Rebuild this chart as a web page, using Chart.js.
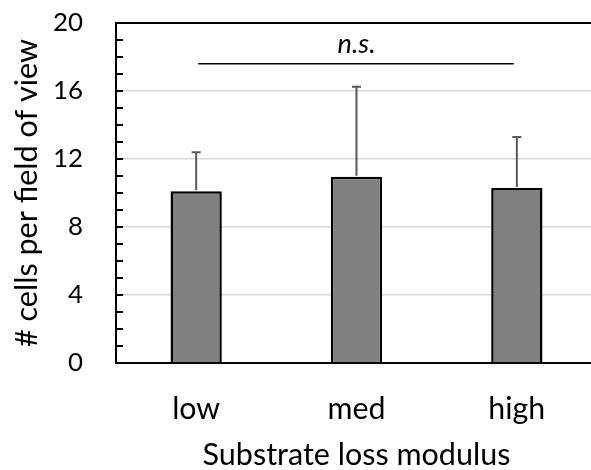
<!DOCTYPE html>
<html>
<head>
<meta charset="utf-8">
<script src="https://cdn.jsdelivr.net/npm/chart.js@4"></script>
<style>
  html, body { margin: 0; padding: 0; background: #fff; overflow: hidden; }
  #wrap { width: 600px; height: 470px; }
</style>
</head>
<body>
<div id="wrap"><canvas id="c" width="600" height="470"></canvas></div>
<script>
// ---- data ----
const categories = ['low', 'med', 'high'];
const meanCells = [10.1, 10.95, 10.3];
const sdCells = [2.3, 5.3, 3.0];
const yTicks = [0, 4, 8, 12, 16, 20];
const sigLabel = 'n.s.';
const sigLevel = 17.6;
const sigTextLevel = 18.75;
const yTitle = '# cells per field of view';
const xTitle = 'Substrate loss modulus';

// ---- font fitting to match reference text widths ----
const FAMILY = 'Lato';
const mctx = document.createElement('canvas').getContext('2d');
function fit(text, width, style) {
  mctx.font = (style || '') + ' 100px ' + FAMILY;
  return 100 * width / mctx.measureText(text).width;
}
const yTickSize = fit('20', 30);
const xTickSize = fit('med', 58);
const xTitleSize = fit(xTitle, 308);
const yTitleSize = fit(yTitle, 308);
const nsSize = fit(sigLabel, 38, 'italic');

const overlay = {
  id: 'overlay',
  afterDatasetsDraw(chart) {
    const ctx = chart.ctx;
    const x = chart.scales.x, y = chart.scales.y;
    const area = chart.chartArea;
    ctx.save();
    // inward minor/major tick marks on y axis
    ctx.strokeStyle = '#000';
    ctx.lineWidth = 2;
    for (let v = 1; v < 20; v++) {
      const py = Math.round(y.getPixelForValue(v)) ;
      ctx.beginPath();
      ctx.moveTo(area.left, py);
      ctx.lineTo(area.left + 7, py);
      ctx.stroke();
    }
    // error bars
    ctx.strokeStyle = '#595959';
    ctx.lineWidth = 2;
    meanCells.forEach((m, i) => {
      const px = x.getPixelForValue(i);
      const y0 = y.getPixelForValue(m) - 1;
      const y1 = y.getPixelForValue(m + sdCells[i]);
      ctx.beginPath();
      ctx.moveTo(px, y0);
      ctx.lineTo(px, y1);
      ctx.moveTo(px - 4.5, y1);
      ctx.lineTo(px + 4.5, y1);
      ctx.stroke();
    });
    // significance line
    ctx.strokeStyle = '#000';
    ctx.lineWidth = 1.5;
    const sy = y.getPixelForValue(sigLevel);
    ctx.beginPath();
    ctx.moveTo(x.getPixelForValue(0) + 2, sy);
    ctx.lineTo(x.getPixelForValue(2) - 3, sy);
    ctx.stroke();
    ctx.fillStyle = '#000';
    ctx.font = 'italic ' + nsSize + 'px ' + FAMILY;
    ctx.textAlign = 'center';
    ctx.textBaseline = 'middle';
    ctx.fillText(sigLabel, x.getPixelForValue(1), y.getPixelForValue(sigTextLevel));
    ctx.restore();
  }
};

new Chart(document.getElementById('c'), {
  type: 'bar',
  data: {
    labels: categories,
    datasets: [{
      data: meanCells,
      backgroundColor: '#808080',
      borderColor: '#000',
      borderWidth: 2.5,
      barPercentage: 0.32,
      categoryPercentage: 1
    }]
  },
  options: {
    responsive: false,
    devicePixelRatio: 1,
    animation: false,
    layout: { padding: { top: 23, right: 3, left: 0, bottom: 0 } },
    plugins: { legend: { display: false }, tooltip: { enabled: false } },
    scales: {
      x: {
        grid: { display: false, drawTicks: true, tickLength: 28, tickColor: 'rgba(0,0,0,0)' },
        border: { display: true, color: '#000', width: 2 },
        ticks: { color: '#000', padding: 0, font: { family: FAMILY, size: xTickSize, lineHeight: 1.2 } },
        title: { display: true, text: xTitle, color: '#000', padding: { top: 0, bottom: 0 },
                 font: { family: FAMILY, size: xTitleSize, lineHeight: 1.0 } },
        afterFit(s) { s.height = 107; }
      },
      y: {
        min: 0, max: 20,
        afterBuildTicks(s) { s.ticks = yTicks.map(v => ({ value: v })); },
        grid: {
          drawTicks: true, tickLength: 33, tickColor: 'rgba(0,0,0,0)',
          color: c => c.tick.value === 20 ? '#000' : (c.tick.value === 0 ? 'rgba(0,0,0,0)' : '#d9d9d9'),
          lineWidth: c => c.tick.value === 20 ? 2 : 1.5
        },
        border: { display: true, color: '#000', width: 2 },
        ticks: { color: '#000', padding: 0, font: { family: FAMILY, size: yTickSize } },
        title: { display: true, text: yTitle, color: '#000', padding: { top: 12, bottom: 0 },
                 font: { family: FAMILY, size: yTitleSize, lineHeight: 1.0 } },
        afterFit(s) { s.width = 116; }
      }
    }
  },
  plugins: [overlay]
});
</script>
</body>
</html>
